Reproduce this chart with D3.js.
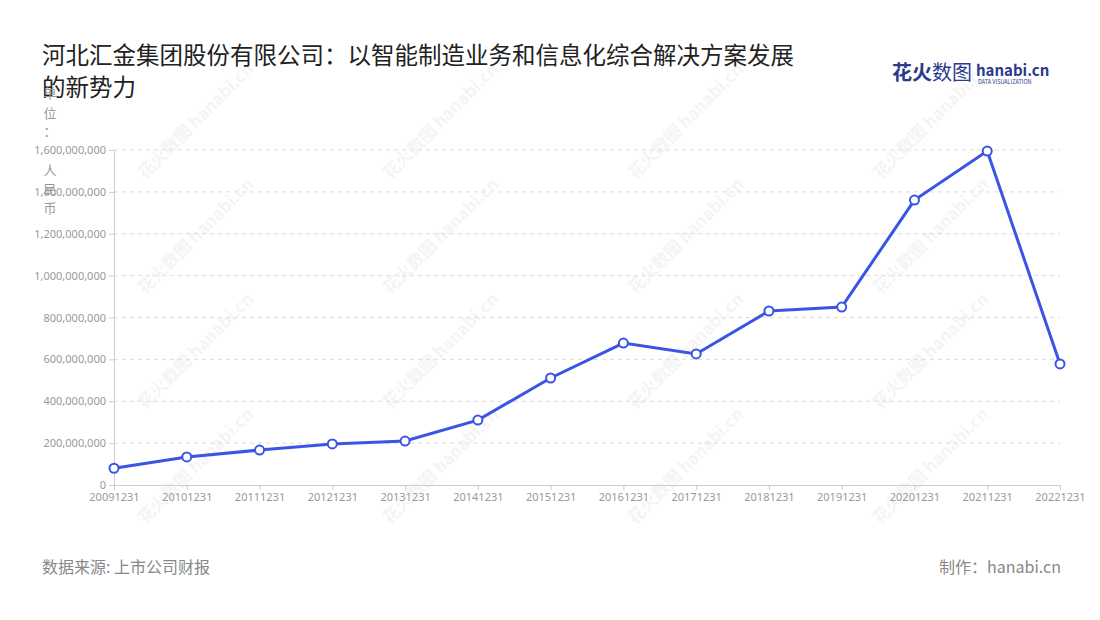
<!DOCTYPE html>
<html><head><meta charset="utf-8">
<script src="https://cdn.jsdelivr.net/npm/d3@7"></script>
<style>body{margin:0;background:#fff;font-family:"Noto Sans CJK SC","Noto Sans",sans-serif;}</style>
</head><body><svg id="chart" width="1100" height="620"></svg>
<script>
// data
let years = ['20091231','20101231','20111231','20121231','20131231','20141231','20151231','20161231','20171231','20181231','20191231','20201231','20211231','20221231']
let revenue = [80e6,134e6,167e6,196e6,210e6,310e6,511e6,678e6,626e6,831e6,850e6,1361e6,1595e6,578e6]
let yTicks = [0,2e8,4e8,6e8,8e8,10e8,12e8,14e8,16e8]

const svg = d3.select("#chart");
const plotL = 114, plotR = 1060, plotT = 150, plotB = 485;

// watermarks
for (let r = 0; r < 4; r++) {
    for (let c = 0; c < 4; c++) {
        let wx = 145 + c * 245, wy = 180 + r * 115;
        svg.append("text").attr("transform", `translate(${wx},${wy}) rotate(-45)`)
            .attr("font-size", 17).attr("font-weight", "bold").attr("fill", "#000").attr("opacity", 0.04)
            .text("花火数图 hanabi.cn");
    }
}

svg.append("text").attr("x", 42).attr("y", 64).attr("font-size", 23.5).attr("fill", "#222")
    .text("河北汇金集团股份有限公司：以智能制造业务和信息化综合解决方案发展");
svg.append("text").attr("x", 42).attr("y", 96).attr("font-size", 23.5).attr("fill", "#222").text("的新势力");

// logo
svg.append("text").attr("x", 892).attr("y", 80).attr("font-size", 20).attr("font-weight", "bold").attr("fill", "#2a3a8c").text("花火");
svg.append("text").attr("x", 932).attr("y", 80).attr("font-size", 20).attr("fill", "#2a3a8c").text("数图");
svg.append("text").attr("x", 976).attr("y", 76).attr("font-size", 15).attr("font-weight", "bold").attr("fill", "#2a3a8c").text("hanabi.cn");
svg.append("text").attr("x", 978).attr("y", 84).attr("font-size", 5.5).attr("fill", "#2a3a8c").text("DATA VISUALIZATION");

const x = d3.scalePoint().domain(years).range([plotL, plotR]);
const y = d3.scaleLinear().domain([0, 16e8]).range([plotB, plotT]);

// grid
svg.append("g").selectAll("line").data(yTicks.slice(1)).enter().append("line")
    .attr("x1", plotL).attr("x2", plotR).attr("y1", d => y(d)).attr("y2", d => y(d))
    .attr("stroke", "#ddd").attr("stroke-dasharray", "4,4");

const ya = svg.append("g").attr("transform", `translate(${plotL},0)`)
    .call(d3.axisLeft(y).tickValues(yTicks).tickFormat(d3.format(",")).tickSize(5));
ya.select(".domain").attr("stroke", "#ccc");
ya.selectAll("line").attr("stroke", "#ccc");
ya.selectAll("text").attr("fill", "#999").attr("font-size", 11).attr("font-family", "Noto Sans");

const xa = svg.append("g").attr("transform", `translate(0,${plotB})`)
    .call(d3.axisBottom(x).tickSize(5));
xa.select(".domain").attr("stroke", "#ccc");
xa.selectAll("line").attr("stroke", "#ccc");
xa.selectAll("text").attr("fill", "#999").attr("font-size", 11).attr("font-family", "Noto Sans");

// vertical unit label
let unit = "单位：人民币".split("");
let unitY = [98, 118, 136, 175, 194, 213];
svg.append("g").selectAll("text").data(unit).enter().append("text")
    .attr("x", 50).attr("y", (d, i) => unitY[i]).attr("text-anchor", "middle")
    .attr("font-size", 13).attr("fill", "#999").text(d => d);

const line = d3.line().x((d, i) => x(years[i])).y(d => y(d));
svg.append("path").datum(revenue).attr("d", line).attr("fill", "none")
    .attr("stroke", "#3a55e4").attr("stroke-width", 3);
svg.append("g").selectAll("circle").data(revenue).enter().append("circle")
    .attr("cx", (d, i) => x(years[i])).attr("cy", d => y(d)).attr("r", 4.5)
    .attr("fill", "#fff").attr("stroke", "#3a55e4").attr("stroke-width", 2);

svg.append("text").attr("x", 42).attr("y", 573).attr("font-size", 16).attr("fill", "#888").text("数据来源: 上市公司财报");
svg.append("text").attr("x", 1061).attr("y", 573).attr("text-anchor", "end").attr("font-size", 16).attr("fill", "#888").text("制作：hanabi.cn");
</script></body></html>
